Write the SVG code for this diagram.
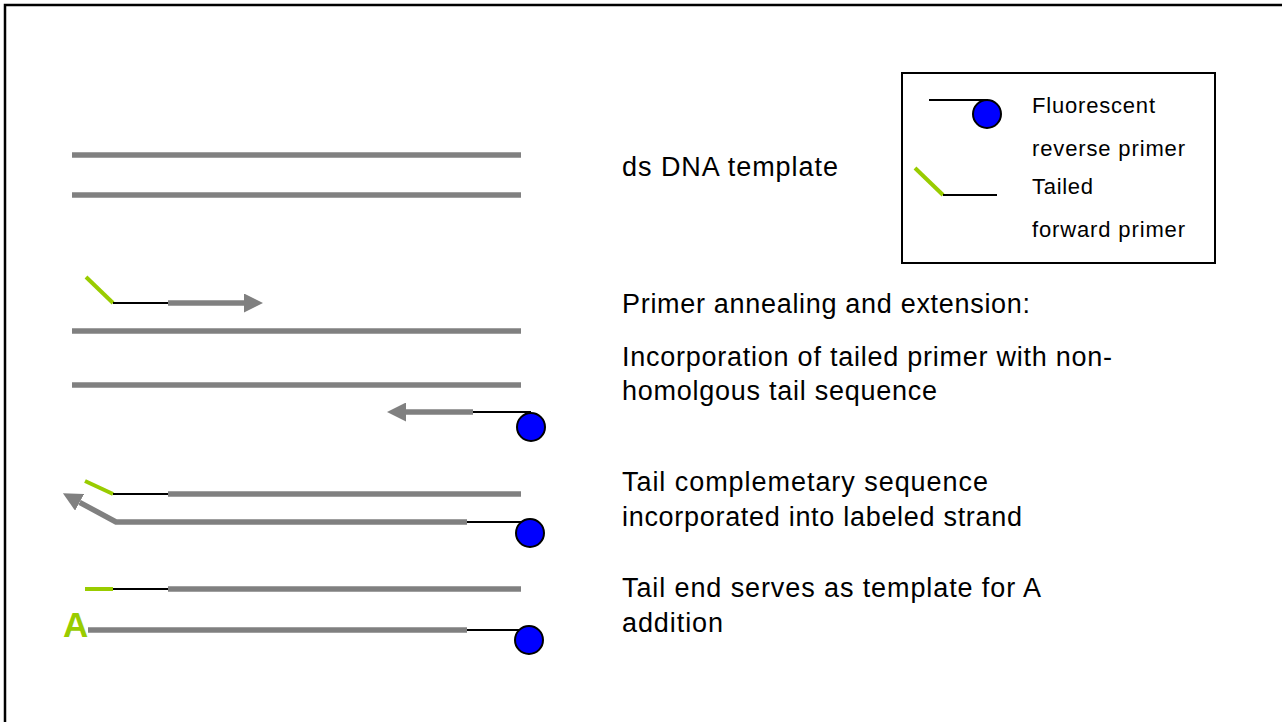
<svg xmlns="http://www.w3.org/2000/svg" width="1282" height="722" viewBox="0 0 1282 722">
  <style>
    .strand { stroke: #808080; stroke-width: 5.5; fill: none; }
    .primer { stroke: #000000; stroke-width: 2; fill: none; }
    .tail { stroke: #99cc00; stroke-width: 4; fill: none; }
    .dye { fill: #0000ff; stroke: #000000; stroke-width: 2; }
    .label { font-family: "Liberation Sans", Arial, sans-serif; font-size: 27px; fill: #000000; }
    .key { font-family: "Liberation Sans", Arial, sans-serif; font-size: 22px; fill: #000000; }
  </style>
  <defs>
    <marker id="head" markerUnits="userSpaceOnUse" markerWidth="19" markerHeight="19" refX="0" refY="9.5" orient="auto">
      <path d="M0,0 L19,9.5 L0,19 Z" fill="#808080"/>
    </marker>
  </defs>

  <rect x="0" y="0" width="1282" height="722" fill="#ffffff"/>
  <!-- slide frame -->
  <path d="M5,722 V5 H1282" fill="none" stroke="#000000" stroke-width="2.5"/>

  <!-- step 1: double-stranded template -->
  <g id="template">
    <line class="strand" x1="72" y1="155" x2="521" y2="155"/>
    <line class="strand" x1="72" y1="195" x2="521" y2="195"/>
  </g>

  <!-- step 2: annealing and extension -->
  <g id="annealing">
    <line class="strand" x1="72" y1="331" x2="521" y2="331"/>
    <line class="strand" x1="72" y1="385" x2="521" y2="385"/>
    <line class="tail" x1="86" y1="277" x2="113" y2="303"/>
    <line class="primer" x1="113" y1="303" x2="168" y2="303"/>
    <line class="primer" x1="473" y1="412" x2="531" y2="412"/>
    <circle class="dye" cx="531" cy="427" r="14"/>
  </g>

  <!-- step 3: tail complement copied into labeled strand -->
  <g id="tail-copy">
    <line class="tail" x1="85" y1="481" x2="113" y2="494"/>
    <line class="primer" x1="113" y1="494" x2="168" y2="494"/>
    <line class="strand" x1="168" y1="494" x2="521" y2="494"/>
    <line class="primer" x1="467" y1="522" x2="530" y2="522"/>
    <circle class="dye" cx="530" cy="533" r="14"/>
  </g>

  <!-- step 4: A addition -->
  <g id="a-addition">
    <line class="tail" x1="85" y1="589" x2="113" y2="589"/>
    <line class="primer" x1="113" y1="589" x2="168" y2="589"/>
    <line class="strand" x1="168" y1="589" x2="521" y2="589"/>
    <line class="strand" x1="88" y1="630" x2="467" y2="630"/>
    <line class="primer" x1="467" y1="630" x2="530" y2="630"/>
    <circle class="dye" cx="529" cy="640" r="14"/>
    <text x="63" y="637" font-family="Liberation Sans, Arial, sans-serif" font-size="35" font-weight="bold" fill="#99cc00">A</text>
  </g>

  <!-- extension arrows -->
  <g id="connectors">
    <line class="strand" x1="168" y1="303" x2="244" y2="303" marker-end="url(#head)"/>
    <line class="strand" x1="473" y1="412" x2="406" y2="412" marker-end="url(#head)"/>
    <polyline class="strand" points="467,522 116,522 79.6,502.3" marker-end="url(#head)"/>
  </g>

  <!-- step captions -->
  <g id="captions">
    <text class="label" x="622" y="176" textLength="216" lengthAdjust="spacing">ds DNA template</text>
    <text class="label" x="622" y="313" textLength="408" lengthAdjust="spacing">Primer annealing and extension:</text>
    <text class="label" x="622" y="366" textLength="490" lengthAdjust="spacing">Incorporation of tailed primer with non-</text>
    <text class="label" x="622" y="400" textLength="315" lengthAdjust="spacing">homolgous tail sequence</text>
    <text class="label" x="622" y="491" textLength="366" lengthAdjust="spacing">Tail complemetary sequence</text>
    <text class="label" x="622" y="526" textLength="400" lengthAdjust="spacing">incorporated into labeled strand</text>
    <text class="label" x="622" y="597" textLength="419" lengthAdjust="spacing">Tail end serves as template for A</text>
    <text class="label" x="622" y="632" textLength="101" lengthAdjust="spacing">addition</text>
  </g>

  <!-- key -->
  <g id="legend">
    <rect x="902" y="73" width="313" height="190" fill="#ffffff" stroke="#000000" stroke-width="2"/>
    <line class="primer" x1="929" y1="100" x2="988" y2="100"/>
    <circle class="dye" cx="987" cy="114" r="14"/>
    <line class="tail" x1="915" y1="168" x2="943" y2="195"/>
    <line class="primer" x1="943" y1="195" x2="997" y2="195"/>
    <text class="key" x="1032" y="113" textLength="123" lengthAdjust="spacing">Fluorescent</text>
    <text class="key" x="1032" y="156" textLength="153" lengthAdjust="spacing">reverse primer</text>
    <text class="key" x="1032" y="194" textLength="61" lengthAdjust="spacing">Tailed</text>
    <text class="key" x="1032" y="237" textLength="153" lengthAdjust="spacing">forward primer</text>
  </g>
</svg>
